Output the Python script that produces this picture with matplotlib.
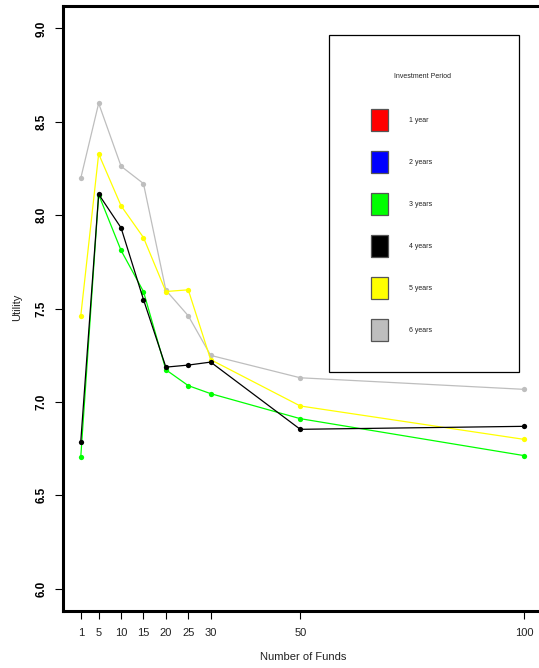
import matplotlib
matplotlib.use("Agg")
import matplotlib.pyplot as plt
from matplotlib.patches import Rectangle

funds = [1, 5, 10, 15, 20, 25, 30, 50, 100]

# utility per investment period (1 and 2 years are not drawn in the original)
util_3y = [6.703, 8.110, 7.811, 7.591, 7.172, 7.087, 7.044, 6.910, 6.712]
util_4y = [6.785, 8.112, 7.932, 7.548, 7.186, 7.197, 7.213, 6.853, 6.869]
util_5y = [7.459, 8.328, 8.050, 7.880, 7.591, 7.600, 7.226, 6.978, 6.799]
util_6y = [8.197, 8.599, 8.262, 8.169, 7.598, 7.461, 7.249, 7.129, 7.067]

legend_labels = ["1 year", "2 years", "3 years", "4 years", "5 years", "6 years"]
legend_colors = ["#ff0000", "#0000ff", "#00ff00", "#000000", "#ffff00", "#bebebe"]

y_ticks = [6.0, 6.5, 7.0, 7.5, 8.0, 8.5, 9.0]

plt.rcParams['font.family'] = ['Liberation Sans', 'DejaVu Sans']

fig = plt.figure(figsize=(5.39, 6.68), dpi=100)
ax = fig.add_axes([63 / 539, 1 - 611 / 668, 479 / 539, 605 / 668])

series = [(util_6y, "#bebebe"), (util_5y, "#ffff00"),
          (util_3y, "#00ff00"), (util_4y, "#000000")]
for vals, col in series:
    ax.plot(funds, vals, color=col, lw=0.9, marker='o', ms=3.8,
            markeredgewidth=0, clip_on=False)

ax.set_xlim(1 - 0.04 * 99, 100 + 0.04 * 99)
ax.set_ylim(6 - 0.12, 9 + 0.12)
ax.set_xticks(funds)
ax.set_xticklabels([str(f) for f in funds], fontsize=8, color='#222222')
ax.set_yticks(y_ticks)
ax.set_yticklabels(["%.1f" % t for t in y_ticks], fontsize=8.5,
                   fontweight='bold', rotation=90, va='center')
ax.tick_params(axis='both', direction='out', length=6, width=0.8)
ax.tick_params(axis='x', pad=6)
ax.tick_params(axis='y', pad=5)

for s in ax.spines.values():
    s.set_linewidth(2.2)
ax.spines['right'].set_visible(False)

fig.text(303 / 539, 1 - 657 / 668, "Number of Funds", ha='center', va='center',
         fontsize=8, color='#222222')
fig.text(17 / 539, 1 - 307 / 668, "Utility", ha='center', va='center',
         rotation=90, fontsize=8, color='#222222')

# legend drawn by hand, as in the original
lt = fig.transFigure
fig.patches.append(Rectangle((329 / 539, 1 - 372 / 668), 190 / 539, 337 / 668,
                             transform=lt, fill=False, lw=0.9, ec='black'))
fig.text(423 / 539, 1 - 76 / 668, "Investment Period", ha='center', va='center',
         fontsize=5, color='#222222')
for i, (lab, col) in enumerate(zip(legend_labels, legend_colors)):
    cy = 120 + 42 * i
    fig.patches.append(Rectangle((371 / 539, 1 - (cy + 11) / 668), 17 / 539, 22 / 668,
                                 transform=lt, fc=col, ec='#555555', lw=0.9))
    fig.text(409 / 539, 1 - cy / 668, lab, ha='left', va='center', fontsize=5,
             color='#222222')

fig.savefig("out.png", dpi=100)
